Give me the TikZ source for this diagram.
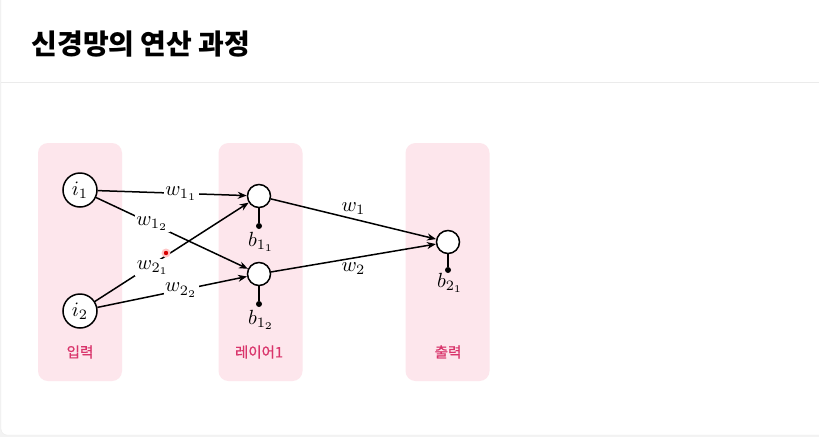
\documentclass[tikz,border=0pt]{standalone}
\usepackage{fontspec}
\newfontfamily\kr{Noto Sans CJK KR}
\newfontfamily\krm{Noto Sans CJK KR}[FakeBold=0.8]
\usetikzlibrary{arrows.meta}
\definecolor{panel}{HTML}{FDE6EC}
\definecolor{lbl}{HTML}{D9346B}
\definecolor{bord}{HTML}{EBEBEB}
\definecolor{outer}{HTML}{F3F3F3}
\newcommand\mtxt[1]{\scalebox{2.05}{$#1$}}
\begin{document}
\begin{tikzpicture}[x=1pt,y=-1pt,
  panelbox/.style={fill=panel,rounded corners=10pt,inner sep=0pt,minimum width=84pt,minimum height=238pt},
  inode/.style={circle,draw,line width=1.5pt,minimum size=34pt,inner sep=0pt,fill=white},
  hnode/.style={circle,draw,line width=1.5pt,minimum size=23pt,inner sep=0pt,fill=white},
  biasdot/.style={circle,fill,inner sep=0pt,minimum size=6pt},
  wlab/.style={fill=white,inner sep=1.5pt},
  mlab/.style={inner sep=1pt},
  conn/.style={line width=1.5pt,-{Stealth[length=9pt,width=7pt]}},
  biasline/.style={line width=1.5pt},
  layerlab/.style={text=lbl,font=\krm\fontsize{14.5}{17}\selectfont}
]
\useasboundingbox (0,0) rectangle (819,437);
\fill[outer] (0,0) rectangle (819,437);
\filldraw[fill=white,draw=bord,rounded corners=6pt] (1,-10) rectangle (830,435);
\draw[bord] (1,82) -- (819,82);

\node[anchor=west,font=\kr\bfseries\fontsize{28}{32}\selectfont] (title) at (28,44) {신경망의 연산 과정};

\node[panelbox] (p1) at (80,262) {};
\node[panelbox] (p2) at (260.5,262) {};
\node[panelbox] (p3) at (447.5,262) {};

\node[layerlab] (l1) at (80,352) {입력};
\node[layerlab] (l2) at (259,352) {레이어1};
\node[layerlab] (l3) at (448,352) {출력};

\node[inode] (i1) at (80,190) {\mtxt{i_1}};
\node[inode] (i2) at (80,311) {\mtxt{i_2}};
\node[hnode] (h1) at (259,196) {};
\node[hnode] (h2) at (259,274) {};
\node[hnode] (o) at (448,242) {};

\node[biasdot] (bd1) at (259,226) {};
\node[biasdot] (bd2) at (259,304) {};
\node[biasdot] (bd3) at (448,270) {};
\draw[biasline] (h1) -- (bd1);
\draw[biasline] (h2) -- (bd2);
\draw[biasline] (o) -- (bd3);
\node[mlab] (b1) at (261,242) {\mtxt{b_{1_1}}};
\node[mlab] (b2) at (261,320) {\mtxt{b_{1_2}}};
\node[mlab] (b3) at (450,283) {\mtxt{b_{2_1}}};

\draw[conn] (i1) -- node[wlab,pos=0.56] {\mtxt{w_{1_1}}} (h1);
\draw[conn] (i1) -- node[wlab,pos=0.37] {\mtxt{w_{1_2}}} (h2);
\draw[conn] (i2) -- node[wlab,pos=0.37,shift={(1,3)}] {\mtxt{w_{2_1}}} (h1);
\draw[conn] (i2) -- node[wlab,pos=0.56] {\mtxt{w_{2_2}}} (h2);
\draw[conn] (h1) -- node[mlab,above=3pt] {\mtxt{w_1}} (o);
\draw[conn] (h2) -- node[mlab,below=3pt] {\mtxt{w_2}} (o);

\fill[red!22] (166,253) circle (4.5pt);
\fill[red!85!black] (166,253) circle (2.2pt);
\end{tikzpicture}
\end{document}
